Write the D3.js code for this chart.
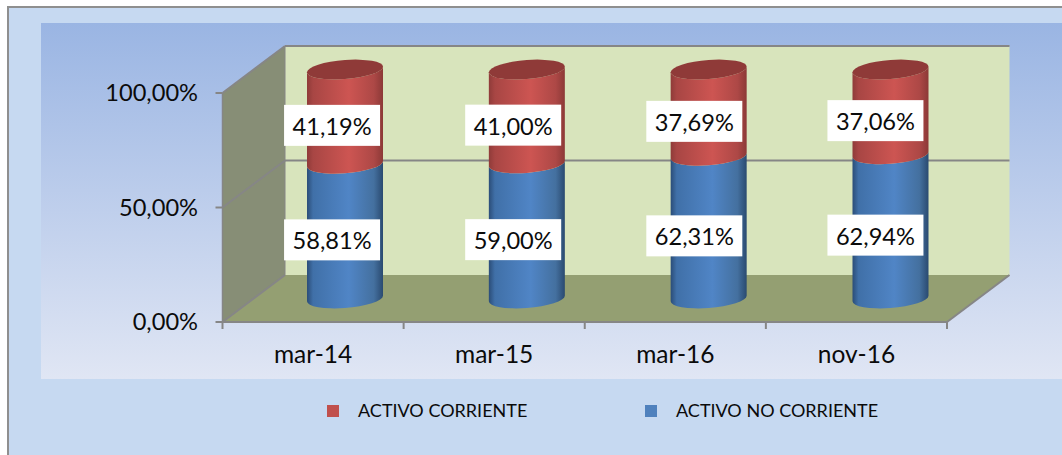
<!DOCTYPE html>
<html><head><meta charset="utf-8">
<script src="https://cdn.jsdelivr.net/npm/d3@7"></script>
<style>html,body{margin:0;padding:0;background:#fff}svg{display:block}text{font-family:Lato,sans-serif;fill:#0b0b0b}</style>
</head><body><svg id="c" width="1062" height="455"></svg>
<script>
const categories = ["mar-14","mar-15","mar-16","nov-16"];
const activoNoCorriente = [58.81,59.00,62.31,62.94];
const activoCorriente = [41.19,41.00,37.69,37.06];
const yTicks = [0,50,100];
const seriesNames = ["ACTIVO CORRIENTE","ACTIVO NO CORRIENTE"];
const fmt = v => v.toFixed(2).replace(".",",")+"%";

const svg = d3.select("#c");
const defs = svg.append("defs");
function lin(id,x2,y2,stops){
  const g=defs.append("linearGradient").attr("id",id).attr("x1",0).attr("y1",0).attr("x2",x2).attr("y2",y2);
  stops.forEach(s=>g.append("stop").attr("offset",s[0]).attr("stop-color",s[1]));
}
lin("plotBg",0,1,[[0,"#9ab5e3"],[1,"#e0e6f4"]]);
lin("red",1,0,[[0,"#8f3b39"],[0.08,"#a84644"],[0.55,"#cd5552"],[0.88,"#ad4846"],[1,"#8c3937"]]);
lin("blue",1,0,[[0,"#2b4d78"],[0.08,"#4070a8"],[0.55,"#5085c6"],[0.88,"#44709f"],[1,"#2a4a70"]]);

const depthX=62.5, depthY=-47;
const x0=222.5, x1=947, yB=322, yT=93;
const x=d3.scaleBand().domain(categories).range([x0,x1]);
const y=d3.scaleLinear().domain([0,100]).range([yB,yT]);
const cylX=d3.scalePoint().domain(categories).range([345,890.5]);
const cylY=v=>y(v)-23.5;
const grid="#868686";

// backgrounds
svg.append("rect").attr("x",8).attr("y",7).attr("width",1054).attr("height",448).attr("fill","#c6d9f1");
svg.append("path").attr("d","M8,455V7H1062").attr("fill","none").attr("stroke","#8f8f8f").attr("stroke-width",2);
svg.append("rect").attr("x",41).attr("y",23).attr("width",1021).attr("height",356).attr("fill","url(#plotBg)");

// walls
const poly=(pts,f)=>svg.append("path").attr("d","M"+pts.map(p=>p.join(",")).join("L")+"Z").attr("fill",f);
poly([[x0+depthX,yT+depthY],[x1+depthX,yT+depthY],[x1+depthX,yB+depthY],[x0+depthX,yB+depthY]],"#d8e4bc");
poly([[x0,yT],[x0+depthX,yT+depthY],[x0+depthX,yB+depthY],[x0,yB]],"#878e76");
poly([[x0,yB],[x1,yB],[x1+depthX,yB+depthY],[x0+depthX,yB+depthY]],"#949f72");

// gridlines
const line=(a,b,c,d,w)=>svg.append("line").attr("x1",a).attr("y1",b).attr("x2",c).attr("y2",d).attr("stroke",grid).attr("stroke-width",w||2);
yTicks.forEach(t=>{
  const yy=y(t);
  line(x0,yy,x0+depthX,yy+depthY);
  if(t>0) line(x0+depthX,yy+depthY,x1+depthX,yy+depthY);
  line(x0-7,yy,x0,yy);
});
line(x0+depthX,yT+depthY,x0+depthX,yB+depthY,1);
line(x0,yT,x0,yB,1.5);
line(x0,yB,x1,yB);
line(x1,yB,x1+depthX,yB+depthY);
d3.range(categories.length+1).forEach(i=>{const xx=x0+i*x.step();line(xx,yB,xx,yB+7);});

// axis labels
svg.append("g").selectAll("text").data(yTicks).join("text")
  .attr("x",198).attr("y",d=>y(d)).attr("dy","0.36em").attr("text-anchor","end")
  .attr("font-size",23.6).text(d=>fmt(d));
svg.append("g").selectAll("text").data(categories).join("text")
  .attr("x",d=>x(d)+x.bandwidth()/2).attr("y",363).attr("text-anchor","middle")
  .attr("font-size",24.5).text(d=>d);

// cylinders
const rx=38, ry=9.5, shear=-0.072;
const seg=(lo,hi)=>`M${-rx},${cylY(lo)}L${-rx},${cylY(hi)}A${rx},${ry} 0 0 0 ${rx},${cylY(hi)}L${rx},${cylY(lo)}A${rx},${ry} 0 0 1 ${-rx},${cylY(lo)}Z`;
const cyl=svg.append("g").selectAll("g").data(categories).join("g")
  .attr("transform",d=>`matrix(1,${shear},0,1,${cylX(d)},0)`);
cyl.append("path").attr("d",(d,i)=>seg(0,activoNoCorriente[i])).attr("fill","url(#blue)");
cyl.append("path").attr("d",(d,i)=>seg(activoNoCorriente[i],100)).attr("fill","url(#red)");
cyl.append("ellipse").attr("cx",0).attr("cy",cylY(100)).attr("rx",rx).attr("ry",ry).attr("fill","#8f3a38");

// data labels
const bw=96,bh=41;
const labels=[];
categories.forEach((c,i)=>{
  labels.push({c,v:activoNoCorriente[i],mid:activoNoCorriente[i]/2});
  labels.push({c,v:activoCorriente[i],mid:activoNoCorriente[i]+activoCorriente[i]/2});
});
const lab=svg.append("g").selectAll("g").data(labels).join("g")
  .attr("transform",d=>`translate(${x(d.c)+x.bandwidth()/2+19},${cylY(d.mid)+8.7})`);
lab.append("rect").attr("x",-bw/2).attr("y",-bh/2).attr("width",bw).attr("height",bh).attr("fill","#fff");
lab.append("text").attr("text-anchor","middle").attr("dy","0.4em").attr("font-size",23.6).text(d=>fmt(d.v));

// legend
const legX=[327,645], legC=["#c0504d","#4f81bd"];
const leg=svg.append("g").selectAll("g").data(seriesNames).join("g").attr("transform",(d,i)=>`translate(${legX[i]},405)`);
leg.append("rect").attr("width",12).attr("height",12).attr("fill",(d,i)=>legC[i]);
leg.append("text").attr("x",31).attr("y",6).attr("dy","0.32em").attr("font-size",18).text(d=>d);
</script></body></html>
